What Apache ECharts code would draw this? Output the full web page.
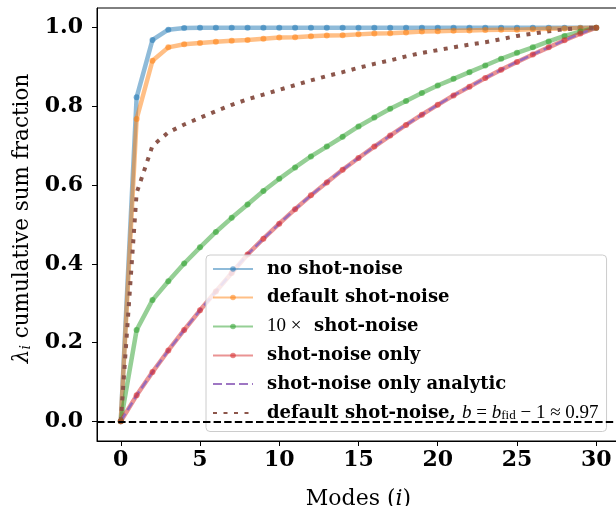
<!DOCTYPE html>
<html><head><meta charset="utf-8">
<script src="https://cdn.jsdelivr.net/npm/echarts@6/dist/echarts.min.js"></script>
<style>html,body{margin:0;padding:0;background:#fff}#c{width:616px;height:506px}</style>
</head><body><div id="c"></div>
<script>
const modes = [0,1,2,3,4,5,6,7,8,9,10,11,12,13,14,15,16,17,18,19,20,21,22,23,24,25,26,27,28,29,30];
const noShotNoise = [0,0.823,0.969,0.995,0.999,1.0,1.0,1.0,1.0,1.0,1.0,1.0,1.0,1.0,1.0,1.0,1.0,1.0,1.0,1.0,1.0,1.0,1.0,1.0,1.0,1.0,1.0,1.0,1.0,1.0,1.0];
const defaultShotNoise = [0,0.768,0.916,0.950,0.958,0.961,0.964,0.967,0.969,0.972,0.975,0.976,0.978,0.980,0.981,0.983,0.985,0.986,0.988,0.990,0.991,0.992,0.993,0.994,0.995,0.995,0.996,0.997,0.998,0.999,1.0];
const tenShotNoise = [0,0.232,0.308,0.356,0.401,0.442,0.481,0.517,0.551,0.585,0.616,0.645,0.673,0.698,0.723,0.749,0.772,0.794,0.814,0.834,0.853,0.870,0.887,0.904,0.921,0.936,0.950,0.965,0.979,0.990,1.0];
const shotNoiseOnly = [0,0.066,0.125,0.180,0.232,0.282,0.330,0.377,0.424,0.464,0.502,0.539,0.574,0.607,0.639,0.669,0.698,0.726,0.753,0.779,0.804,0.828,0.850,0.872,0.893,0.913,0.932,0.950,0.968,0.985,1.0];
const shotNoiseOnlyAnalytic = [0,0.066,0.125,0.180,0.232,0.282,0.330,0.377,0.424,0.464,0.502,0.539,0.574,0.607,0.639,0.669,0.698,0.726,0.753,0.779,0.804,0.828,0.850,0.872,0.893,0.913,0.932,0.950,0.968,0.985,1.0];
const defaultShotNoiseBfid = [0,0.580,0.700,0.734,0.754,0.771,0.788,0.804,0.818,0.830,0.842,0.854,0.866,0.877,0.887,0.898,0.908,0.917,0.927,0.936,0.943,0.950,0.957,0.963,0.971,0.979,0.985,0.991,0.996,0.999,1.0];
const xTicks = [0,5,10,15,20,25,30];
const yTicks = [0,0.2,0.4,0.6,0.8,1.0];
const baselineY = 0;
const seriesNames = ['no shot-noise','default shot-noise','10× shot-noise','shot-noise only','shot-noise only analytic','default shot-noise, b = b_fid − 1 ≈ 0.97'];
const legendLabels = {
  '10× shot-noise': '{m|10 ×}  shot-noise',
  'default shot-noise, b = b_fid − 1 ≈ 0.97': 'default shot-noise, {mi|b}{m| = }{mi|b}{sub|fid}{m| − 1 ≈ 0.97}'
};

const pairs = vals => modes.map((m, k) => [m, vals[k]]);
const solid = (name, color, vals) => ({
  name, type: 'line', data: pairs(vals), symbol: 'circle', symbolSize: 6, showSymbol: true,
  lineStyle: { color, width: 4.5, opacity: 0.5 }, itemStyle: { color, opacity: 0.55 },
  emphasis: { disabled: true }, animation: false
});

const serif = 'DejaVu Serif';
const mathFont = 'Liberation Serif';
const chart = echarts.init(document.getElementById('c'), null, { renderer: 'canvas' });
chart.setOption({
  animation: false,
  grid: { left: 97, right: -4, top: 8, bottom: 65, show: true, borderColor: '#000', borderWidth: 1, backgroundColor: 'transparent', outerBoundsMode: 'none' },
  xAxis: {
    type: 'value', min: -1.5, max: 31.5,
    name: 'Modes ({i|i})', nameLocation: 'middle', nameGap: 47,
    nameTextStyle: { fontFamily: serif, fontSize: 22, color: '#000', rich: { i: { fontFamily: serif, fontStyle: 'italic', fontSize: 22, color: '#000' } } },
    axisLine: { show: true, onZero: false, lineStyle: { color: '#000', width: 1 } },
    axisTick: { show: true, length: 5, lineStyle: { color: '#000', width: 1 }, customValues: xTicks },
    axisLabel: { customValues: xTicks, fontFamily: serif, fontWeight: 'bold', fontSize: 22, color: '#000', margin: 8 },
    splitLine: { show: false }
  },
  yAxis: {
    type: 'value', min: -0.05, max: 1.05,
    name: '{l|λ}{s|i} cumulative sum fraction', nameLocation: 'middle', nameGap: 64,
    nameTextStyle: { fontFamily: serif, fontSize: 21.5, color: '#000', padding: [0, 0, 0, 12], rich: {
      l: { fontFamily: serif, fontStyle: 'italic', fontSize: 21.5, color: '#000' },
      s: { fontFamily: serif, fontStyle: 'italic', fontSize: 14, color: '#000', verticalAlign: 'bottom' } } },
    axisLine: { show: true, onZero: false, lineStyle: { color: '#000', width: 1 } },
    axisTick: { show: true, length: 5, lineStyle: { color: '#000', width: 1 }, customValues: yTicks },
    axisLabel: { customValues: yTicks, formatter: v => v.toFixed(1), fontFamily: serif, fontWeight: 'bold', fontSize: 22, color: '#000', margin: 14 },
    splitLine: { show: false }
  },
  legend: {
    orient: 'vertical', left: 206, top: 255,
    padding: [5, 8, 9, 6], itemWidth: 40, itemHeight: 7, itemGap: 10.5,
    backgroundColor: 'rgba(255,255,255,0.8)', borderColor: '#cccccc', borderWidth: 1, borderRadius: 4,
    data: seriesNames,
    formatter: n => legendLabels[n] || n,
    textStyle: { fontFamily: serif, fontWeight: 'bold', fontSize: 18, color: '#000', lineHeight: 18, padding: [0, 0, 0, 9],
      rich: {
        m: { fontFamily: mathFont, fontWeight: 'normal', fontSize: 19, color: '#000' },
        mi: { fontFamily: mathFont, fontStyle: 'italic', fontWeight: 'normal', fontSize: 19, color: '#000' },
        sub: { fontFamily: mathFont, fontWeight: 'normal', fontSize: 13, color: '#000', verticalAlign: 'bottom' }
      } }
  },
  series: [
    { name: 'baseline', type: 'line', data: [], symbol: 'none', silent: true, animation: false,
      markLine: { silent: true, symbol: 'none', label: { show: false }, animation: false,
        lineStyle: { color: '#000', width: 2, type: [7.4, 3.2] }, data: [{ yAxis: baselineY }] } },
    solid(seriesNames[0], '#1f77b4', noShotNoise),
    solid(seriesNames[1], '#ff7f0e', defaultShotNoise),
    solid(seriesNames[2], '#2ca02c', tenShotNoise),
    solid(seriesNames[3], '#d62728', shotNoiseOnly),
    { name: seriesNames[4], type: 'line', data: pairs(shotNoiseOnlyAnalytic), symbol: 'none', animation: false, emphasis: { disabled: true },
      lineStyle: { color: '#9467bd', width: 2.5, type: [9, 4], opacity: 0.9 }, itemStyle: { color: '#9467bd', opacity: 0 } },
    { name: seriesNames[5], type: 'line', data: pairs(defaultShotNoiseBfid), symbol: 'none', animation: false, emphasis: { disabled: true },
      lineStyle: { color: '#8c564b', width: 4, type: [4, 6.5], cap: 'butt' }, itemStyle: { color: '#8c564b', opacity: 0 } }
  ]
});
</script></body></html>
